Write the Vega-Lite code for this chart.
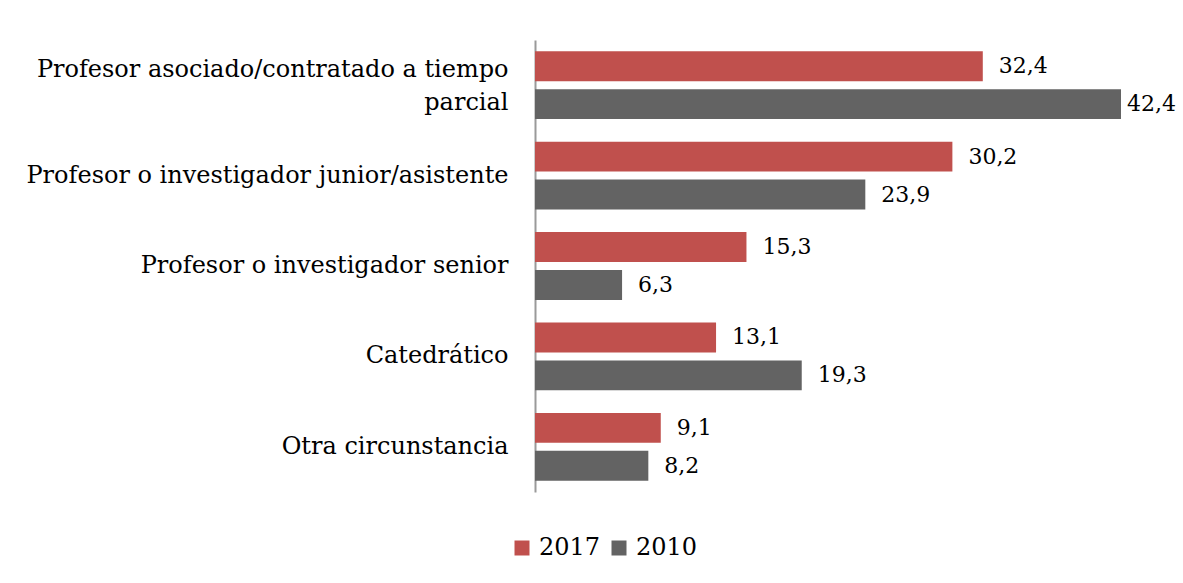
{
  "$schema": "https://vega.github.io/schema/vega-lite/v6.json",
  "width": 586,
  "height": 452,
  "autosize": {"type": "none"},
  "padding": {"left": 535, "top": 40, "right": 62, "bottom": 91},
  "config": {
    "font": "DejaVu Serif",
    "view": {"stroke": null},
    "locale": {"number": {"decimal": ",", "thousands": ".", "grouping": [3], "currency": ["", " €"]}}
  },
  "data": {
    "values": [
      {"categoria": "Profesor asociado/contratado a tiempo parcial", "anio": "2017", "valor": 32.4},
      {"categoria": "Profesor asociado/contratado a tiempo parcial", "anio": "2010", "valor": 42.4},
      {"categoria": "Profesor o investigador junior/asistente", "anio": "2017", "valor": 30.2},
      {"categoria": "Profesor o investigador junior/asistente", "anio": "2010", "valor": 23.9},
      {"categoria": "Profesor o investigador senior", "anio": "2017", "valor": 15.3},
      {"categoria": "Profesor o investigador senior", "anio": "2010", "valor": 6.3},
      {"categoria": "Catedrático", "anio": "2017", "valor": 13.1},
      {"categoria": "Catedrático", "anio": "2010", "valor": 19.3},
      {"categoria": "Otra circunstancia", "anio": "2017", "valor": 9.1},
      {"categoria": "Otra circunstancia", "anio": "2010", "valor": 8.2}
    ]
  },
  "encoding": {
    "y": {
      "field": "categoria",
      "type": "nominal",
      "sort": ["Profesor asociado/contratado a tiempo parcial", "Profesor o investigador junior/asistente", "Profesor o investigador senior", "Catedrático", "Otra circunstancia"],
      "scale": {"paddingInner": 0.25, "paddingOuter": 0.125},
      "axis": {
        "title": null,
        "ticks": false,
        "domainColor": "#9a9a9a",
        "domainWidth": 2,
        "labelFontSize": 24,
        "labelColor": "black",
        "labelPadding": 27,
        "labelLimit": 600,
        "labelLineHeight": 33,
        "labelOffset": {"condition": {"test": "datum.value == 'Profesor asociado/contratado a tiempo parcial'", "value": -15}, "value": 0},
        "labelExpr": "datum.label == 'Profesor asociado/contratado a tiempo parcial' ? ['Profesor asociado/contratado a tiempo', 'parcial'] : datum.label"
      }
    },
    "yOffset": {"field": "anio", "type": "nominal", "sort": ["2017", "2010"], "scale": {"paddingInner": 0.21}},
    "x": {"field": "valor", "type": "quantitative", "scale": {"domain": [0, 42.4]}, "axis": null}
  },
  "layer": [
    {
      "mark": {"type": "bar"},
      "encoding": {
        "color": {
          "field": "anio",
          "type": "nominal",
          "scale": {"domain": ["2017", "2010"], "range": ["#C0504D", "#636363"]},
          "legend": {
            "title": null,
            "orient": "none",
            "legendX": -25,
            "legendY": 496,
            "direction": "horizontal",
            "symbolType": "square",
            "symbolSize": 225,
            "symbolStrokeWidth": 0,
            "labelFontSize": 24,
            "labelColor": "black",
            "labelOffset": 5,
            "columnPadding": 6
          }
        }
      }
    },
    {
      "transform": [{"filter": "datum.valor < 40"}],
      "mark": {"type": "text", "align": "left", "baseline": "middle", "dx": 16, "fontSize": 22, "color": "black"},
      "encoding": {"text": {"field": "valor", "type": "quantitative", "format": ".1f"}}
    },
    {
      "transform": [{"filter": "datum.valor >= 40"}],
      "mark": {"type": "text", "align": "left", "baseline": "middle", "dx": 6, "fontSize": 22, "color": "black"},
      "encoding": {"text": {"field": "valor", "type": "quantitative", "format": ".1f"}}
    }
  ]
}
